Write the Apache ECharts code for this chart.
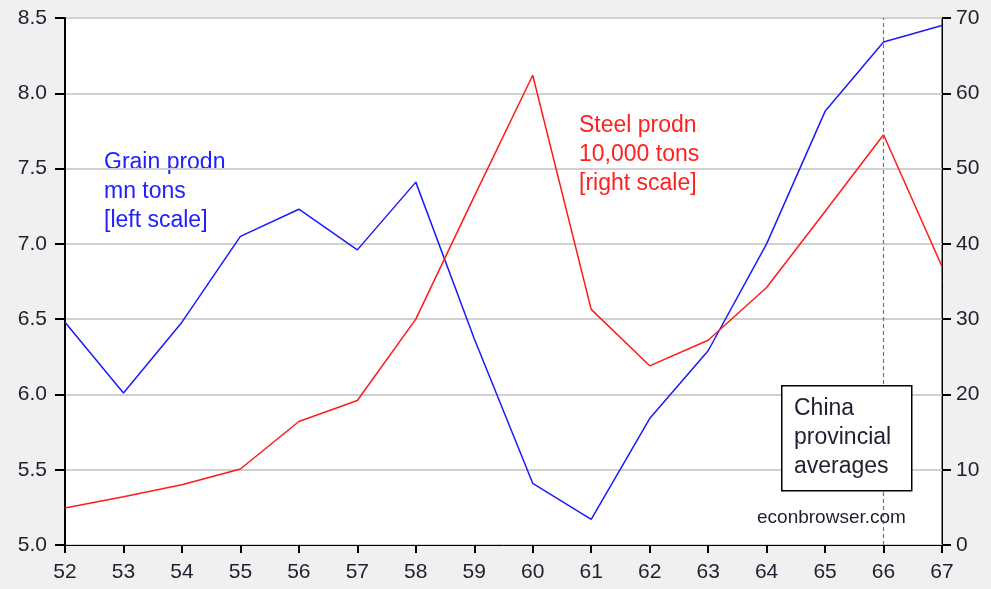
<!DOCTYPE html>
<html>
<head>
<meta charset="utf-8">
<script src="https://cdn.jsdelivr.net/npm/echarts@6/dist/echarts.min.js"></script>
<style>
  html, body { margin: 0; padding: 0; background: #f0f0f0; }
  #chart { width: 991px; height: 589px; }
</style>
</head>
<body>
<div id="chart"></div>
<script>
// years 1952-1967
const years = ["52", "53", "54", "55", "56", "57", "58", "59", "60", "61", "62", "63", "64", "65", "66", "67"];
// grain production, mn tons (left scale)
const grain = [6.48, 6.01, 6.48, 7.05, 7.23, 6.96, 7.41, 6.37, 5.41, 5.17, 5.84, 6.29, 7.0, 7.88, 8.34, 8.45];
// steel production, 10,000 tons (right scale)
const steel = [4.9, 6.4, 8.0, 10.1, 16.4, 19.2, 30.0, 46.3, 62.4, 31.3, 23.8, 27.2, 34.2, 44.3, 54.5, 37.0];
const leftTicks = { min: 5.0, max: 8.5, interval: 0.5 };
const rightTicks = { min: 0, max: 70, interval: 10 };

const font = "Liberation Sans, Arial, sans-serif";
const labelColor = "#1f1f2f";

const chart = echarts.init(document.getElementById("chart"));

chart.setOption({
  backgroundColor: "#f0f0f0",
  animation: false,
  grid: {
    left: 65, right: 49, top: 18, bottom: 44,
    show: true, backgroundColor: "#ffffff", borderColor: "#000", borderWidth: 1,
  },
  xAxis: {
    type: "category",
    data: years,
    boundaryGap: false,
    axisLine: { lineStyle: { color: "#000", width: 1 } },
    axisTick: { show: true, length: 8, lineStyle: { color: "#000", width: 2 } },
    axisLabel: { color: labelColor, fontFamily: font, fontSize: 21, margin: 17 },
    splitLine: { show: false },
  },
  yAxis: [
    {
      type: "value",
      position: "left",
      min: leftTicks.min, max: leftTicks.max, interval: leftTicks.interval,
      axisLine: { show: true, lineStyle: { color: "#000", width: 2 } },
      axisTick: { show: true, length: 10, lineStyle: { color: "#000", width: 2 } },
      axisLabel: {
        color: labelColor, fontFamily: font, fontSize: 21, margin: 18,
        formatter: (v) => v.toFixed(1),
      },
      splitLine: { show: true, lineStyle: { color: "#d0d0d0", width: 2 } },
    },
    {
      type: "value",
      position: "right",
      min: rightTicks.min, max: rightTicks.max, interval: rightTicks.interval,
      axisLine: { show: true, lineStyle: { color: "#000", width: 1 } },
      axisTick: { show: true, length: 9, lineStyle: { color: "#000", width: 2 } },
      axisLabel: { color: labelColor, fontFamily: font, fontSize: 21, margin: 14 },
      splitLine: { show: false },
    },
  ],
  series: [
    {
      name: "Grain prodn",
      type: "line",
      yAxisIndex: 0,
      data: grain,
      symbol: "none",
      lineStyle: { color: "#1a1aff", width: 1.5 },
      z: 3,
      markLine: {
        silent: true,
        symbol: "none",
        label: { show: false },
        lineStyle: { color: "#777", type: [4, 3], width: 1.2 },
        data: [{ xAxis: "66" }],
      },
    },
    {
      name: "Steel prodn",
      type: "line",
      yAxisIndex: 1,
      data: steel,
      symbol: "none",
      lineStyle: { color: "#ff1a1a", width: 1.5 },
      z: 4,
    },
  ],
  graphic: [
    {
      type: "text", left: 104, top: 148,
      style: {
        text: "Grain prodn\nmn tons\n[left scale]",
        fill: "#2020ff", font: "23px " + font, lineHeight: 29,
      },
    },
    {
      type: "text", left: 579, top: 111,
      style: {
        text: "Steel prodn\n10,000 tons\n[right scale]",
        fill: "#ff2020", font: "23px " + font, lineHeight: 29,
      },
    },
    {
      type: "rect", left: 781, top: 385, z: 10,
      shape: { width: 130, height: 105 },
      style: { fill: "#fff", stroke: "#000", lineWidth: 1.5 },
    },
    {
      type: "text", left: 794, top: 394, z: 11,
      style: {
        text: "China\nprovincial\naverages",
        fill: "#1f1f2f", font: "23px " + font, lineHeight: 29,
      },
    },
    {
      type: "text", left: 757, top: 508, z: 11,
      style: { text: "econbrowser.com", fill: "#1f1f2f", font: "19px " + font },
    },
  ],
});
</script>
</body>
</html>
